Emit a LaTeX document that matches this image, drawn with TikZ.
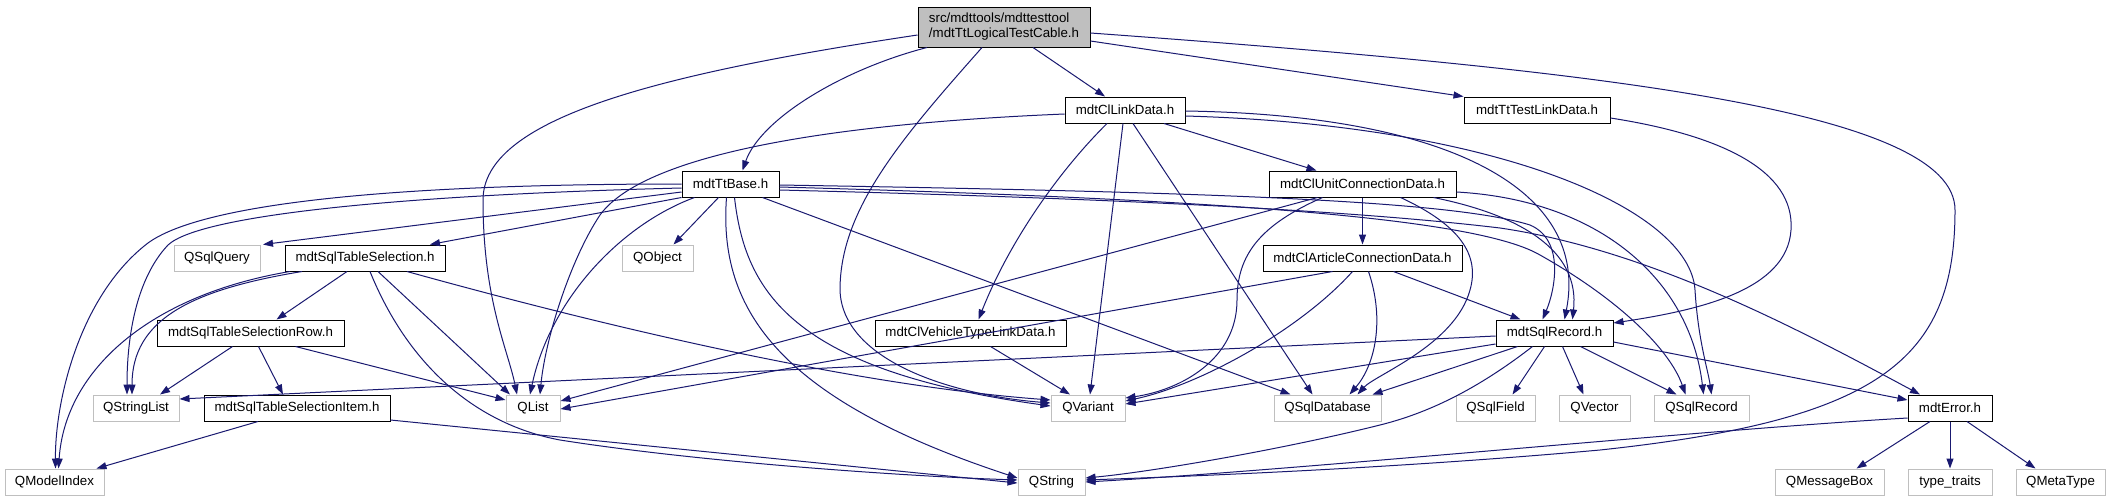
\documentclass[tikz,border=0pt]{standalone}
\usepackage{fontspec}
\newfontfamily\dxfont{Liberation Sans}
\usetikzlibrary{arrows.meta}
\definecolor{edgeblue}{HTML}{191970}
\definecolor{extgray}{HTML}{BFBFBF}
\begin{document}
\begin{tikzpicture}[x=1pt,y=-1pt,
  every node/.style={font=\dxfont\fontsize{13.3}{15}\selectfont, inner sep=0pt, minimum height=26pt},
  doc/.style={draw=black, line width=1pt, fill=white},
  ext/.style={draw=extgray, line width=1pt, fill=white},
  rootbox/.style={draw=black, line width=1pt, fill=extgray, minimum height=40pt, align=left},
  dep/.style={draw=edgeblue, line width=1pt, -{Triangle[length=10pt,width=7pt]}}
]
\useasboundingbox[fill=white] (0,0) rectangle (2109,501);

% nodes
\node[rootbox, minimum width=172pt] (root) at (1004,27) {src/mdttools/mdttesttool\\/mdtTtLogicalTestCable.h};
\node[doc, minimum width=120pt] (clink) at (1125,110) {mdtClLinkData.h};
\node[doc, minimum width=146pt] (ttest) at (1537,110) {mdtTtTestLinkData.h};
\node[doc, minimum width=97pt] (ttbase) at (730.5,184) {mdtTtBase.h};
\node[doc, minimum width=187pt] (unitconn) at (1362.5,184) {mdtClUnitConnectionData.h};
\node[ext, minimum width=86pt] (qsqlquery) at (217,258) {QSqlQuery};
\node[doc, minimum width=160pt] (tblsel) at (365,258) {mdtSqlTableSelection.h};
\node[ext, minimum width=71pt] (qobject) at (657.5,258) {QObject};
\node[doc, minimum width=199pt] (article) at (1362.5,258) {mdtClArticleConnectionData.h};
\node[doc, minimum width=187pt] (tblrow) at (250.5,333) {mdtSqlTableSelectionRow.h};
\node[doc, minimum width=191pt] (vehicle) at (970.5,333) {mdtClVehicleTypeLinkData.h};
\node[doc, minimum width=117pt] (sqlrecord) at (1554.5,333) {mdtSqlRecord.h};
\node[ext, minimum width=86pt] (qstringlist) at (136,408) {QStringList};
\node[doc, minimum width=186pt] (tblitem) at (297,408) {mdtSqlTableSelectionItem.h};
\node[ext, minimum width=54pt] (qlist) at (533,408) {QList};
\node[ext, minimum width=74pt] (qvariant) at (1088,408) {QVariant};
\node[ext, minimum width=107pt] (qsqldb) at (1327.5,408) {QSqlDatabase};
\node[ext, minimum width=79pt] (qsqlfield) at (1495.5,408) {QSqlField};
\node[ext, minimum width=71pt] (qvector) at (1594.5,408) {QVector};
\node[ext, minimum width=95pt] (qsqlrecord) at (1701.5,408) {QSqlRecord};
\node[doc, minimum width=84pt] (mdterror) at (1950,408) {mdtError.h};
\node[ext, minimum width=99pt] (qmodelindex) at (54.5,482) {QModelIndex};
\node[ext, minimum width=67pt] (qstring) at (1051.5,482) {QString};
\node[ext, minimum width=109pt] (qmsgbox) at (1829.5,482) {QMessageBox};
\node[ext, minimum width=84pt] (typetraits) at (1950,482) {type\_traits};
\node[ext, minimum width=89pt] (qmetatype) at (2060.5,482) {QMetaType};

% root edges
\draw[dep] ([xshift=-77pt]root.south) .. controls (840,70) and (760,120) .. ([xshift=12pt]ttbase.north);
\draw[dep] ([xshift=29pt]root.south) -- ([xshift=-20pt]clink.north);
\draw[dep] ([yshift=-14pt]root.east) -- (ttest.north west);
\draw[dep] ([yshift=-6pt]root.east) .. controls (1600,70) and (1955,110) .. (1955,210) .. controls (1955,360) and (1880,420) .. (1600,450) .. controls (1400,468) and (1200,476) .. ([yshift=2pt]qstring.east);
\draw[dep] ([yshift=-8pt]root.west) .. controls (650,75) and (483,120) .. (483,200) .. controls (483,300) and (508,350) .. ([xshift=-16pt]qlist.north);
\draw[dep] ([xshift=-22pt]root.south) .. controls (900,140) and (840,210) .. (840,290) .. controls (842,360) and (950,395) .. ([yshift=5pt]qvariant.west);

% mdtClLinkData edges
\draw[dep] ([yshift=-4pt]clink.west) .. controls (800,125) and (640,160) .. (600,215) .. controls (570,260) and (545,340) .. ([xshift=7pt]qlist.north);
\draw[dep] ([xshift=-18pt]clink.south) .. controls (1060,170) and (1010,240) .. ([xshift=8pt]vehicle.north);
\draw[dep] ([xshift=-2pt]clink.south) -- ([xshift=2pt]qvariant.north);
\draw[dep] ([xshift=8pt]clink.south) -- ([xshift=-15pt]qsqldb.north);
\draw[dep] ([xshift=39pt]clink.south) -- ([xshift=-46pt]unitconn.north);
\draw[dep] ([yshift=-1pt]clink.east) .. controls (1450,115) and (1590,190) .. ([xshift=10pt]sqlrecord.north);
\draw[dep] ([yshift=-6pt]clink.east) .. controls (1500,125) and (1690,210) .. (1695,290) .. controls (1698,340) and (1708,370) .. ([xshift=10pt]qsqlrecord.north);

% mdtTtTestLinkData
\draw[dep] ([yshift=-8pt]ttest.east) .. controls (1720,135) and (1795,170) .. (1791,230) .. controls (1787,290) and (1700,310) .. ([yshift=10pt]sqlrecord.east);

% mdtTtBase edges
\draw[dep] (ttbase.west) .. controls (380,184) and (200,205) .. (148,243) .. controls (80,295) and (55,400) .. ([xshift=1pt]qmodelindex.north);
\draw[dep] ([yshift=-4pt]ttbase.west) .. controls (400,195) and (200,215) .. (168,245) .. controls (135,280) and (127,340) .. ([xshift=-9pt]qstringlist.north);
\draw[dep] ([yshift=-8pt]ttbase.west) -- ([xshift=46pt]qsqlquery.north);
\draw[dep] (ttbase.south west) -- ([xshift=65pt]tblsel.north);
\draw[dep] ([xshift=-12pt]ttbase.south) -- ([xshift=16pt]qobject.north);
\draw[dep] ([xshift=-36pt]ttbase.south) .. controls (620,225) and (550,300) .. ([xshift=-3pt]qlist.north);
\draw[dep] ([xshift=-4pt]ttbase.south) .. controls (718,310) and (780,400) .. ([yshift=4pt]qstring.west);
\draw[dep] ([xshift=4pt]ttbase.south) .. controls (745,290) and (790,370) .. ([yshift=2pt]qvariant.west);
\draw[dep] ([xshift=32pt]ttbase.south) -- ([xshift=-37pt]qsqldb.north);
\draw[dep] ([yshift=-1pt]ttbase.east) .. controls (1200,192) and (1450,200) .. (1530,225) .. controls (1565,240) and (1555,290) .. ([xshift=-12pt]sqlrecord.north);
\draw[dep] ([yshift=-3pt]ttbase.east) .. controls (1250,200) and (1480,220) .. (1540,255) .. controls (1620,300) and (1670,350) .. ([xshift=-16pt]qsqlrecord.north);
\draw[dep] ([yshift=-6pt]ttbase.east) .. controls (1100,198) and (1350,210) .. (1500,228) .. controls (1650,250) and (1800,330) .. ([xshift=-30pt]mdterror.north);

% mdtClUnitConnectionData edges
\draw[dep] ([xshift=-45pt]unitconn.south) -- ([yshift=7pt]qlist.east);
\draw[dep] ([xshift=-40pt]unitconn.south) .. controls (1260,225) and (1237,255) .. (1237,300) .. controls (1237,360) and (1180,390) .. ([yshift=10pt]qvariant.east);
\draw[dep] (unitconn) -- (article);
\draw[dep] ([xshift=38pt]unitconn.south) .. controls (1460,225) and (1480,255) .. (1470,290) .. controls (1455,345) and (1375,375) .. ([xshift=30pt]qsqldb.north);
\draw[dep] ([xshift=-23pt]unitconn.south east) .. controls (1520,215) and (1580,250) .. ([xshift=18pt]sqlrecord.north);
\draw[dep] ([yshift=-8pt]unitconn.east) .. controls (1600,200) and (1690,280) .. ([xshift=2pt]qsqlrecord.north);

% mdtClArticleConnectionData edges
\draw[dep] ([xshift=-30pt]article.south) -- ([yshift=-1pt]qlist.east);
\draw[dep] ([xshift=-10pt]article.south) .. controls (1300,330) and (1200,385) .. ([yshift=7pt]qvariant.east);
\draw[dep] ([xshift=6pt]article.south) .. controls (1385,320) and (1375,365) .. ([xshift=22pt]qsqldb.north);
\draw[dep] ([xshift=31pt]article.south) -- ([xshift=-34pt]sqlrecord.north);

% mdtClVehicleTypeLinkData
\draw[dep] ([xshift=20pt]vehicle.south) -- ([xshift=-18pt]qvariant.north);

% mdtSqlRecord edges
\draw[dep] ([yshift=-3pt]sqlrecord.west) -- ([yshift=9pt]qstringlist.east);
\draw[dep] ([yshift=-11pt]sqlrecord.west) -- ([yshift=4pt]qvariant.east);
\draw[dep] ([xshift=-37pt]sqlrecord.south) -- ([xshift=45pt]qsqldb.north);
\draw[dep] ([xshift=-22pt]sqlrecord.south) .. controls (1470,395) and (1420,415) .. (1380,425) .. controls (1280,450) and (1150,472) .. ([yshift=4pt]qstring.east);
\draw[dep] ([xshift=-10pt]sqlrecord.south) -- ([xshift=17pt]qsqlfield.north);
\draw[dep] ([xshift=8pt]sqlrecord.south) -- ([xshift=-11pt]qvector.north);
\draw[dep] ([xshift=26pt]sqlrecord.south) -- ([xshift=-25pt]qsqlrecord.north);
\draw[dep] ([yshift=-9pt]sqlrecord.east) -- ([yshift=8pt]mdterror.west);

% mdtError edges
\draw[dep] ([yshift=-10pt]mdterror.west) .. controls (1700,430) and (1300,470) .. (qstring.east);
\draw[dep] ([xshift=-20pt]mdterror.south) -- ([xshift=27pt]qmsgbox.north);
\draw[dep] (mdterror) -- (typetraits);
\draw[dep] ([xshift=17pt]mdterror.south) -- ([xshift=-25pt]qmetatype.north);

% mdtSqlTableSelection edges
\draw[dep] ([xshift=-75pt]tblsel.south) .. controls (150,295) and (65,370) .. ([xshift=4pt]qmodelindex.north);
\draw[dep] ([xshift=-63pt]tblsel.south) .. controls (190,290) and (132,320) .. ([xshift=-4pt]qstringlist.north);
\draw[dep] ([xshift=-18pt]tblsel.south) -- ([xshift=26pt]tblrow.north);
\draw[dep] ([xshift=13pt]tblsel.south) -- ([xshift=-23pt]qlist.north);
\draw[dep] ([xshift=5pt]tblsel.south) .. controls (410,370) and (480,425) .. (560,440) .. controls (700,462) and (900,476) .. ([yshift=2pt]qstring.west);
\draw[dep] ([xshift=42pt]tblsel.south) .. controls (600,325) and (850,385) .. ([yshift=8pt]qvariant.west);

% mdtSqlTableSelectionRow edges
\draw[dep] ([xshift=-18pt]tblrow.south) -- ([xshift=24pt]qstringlist.north);
\draw[dep] ([xshift=8pt]tblrow.south) -- ([xshift=-14pt]tblitem.north);
\draw[dep] ([xshift=45pt]tblrow.south) -- ([yshift=8pt]qlist.west);

% mdtSqlTableSelectionItem edges
\draw[dep] ([xshift=-39pt]tblitem.south) -- ([xshift=42pt]qmodelindex.north);
\draw[dep] ([yshift=-12pt]tblitem.east) -- ([yshift=-1pt]qstring.west);
\end{tikzpicture}
\end{document}
